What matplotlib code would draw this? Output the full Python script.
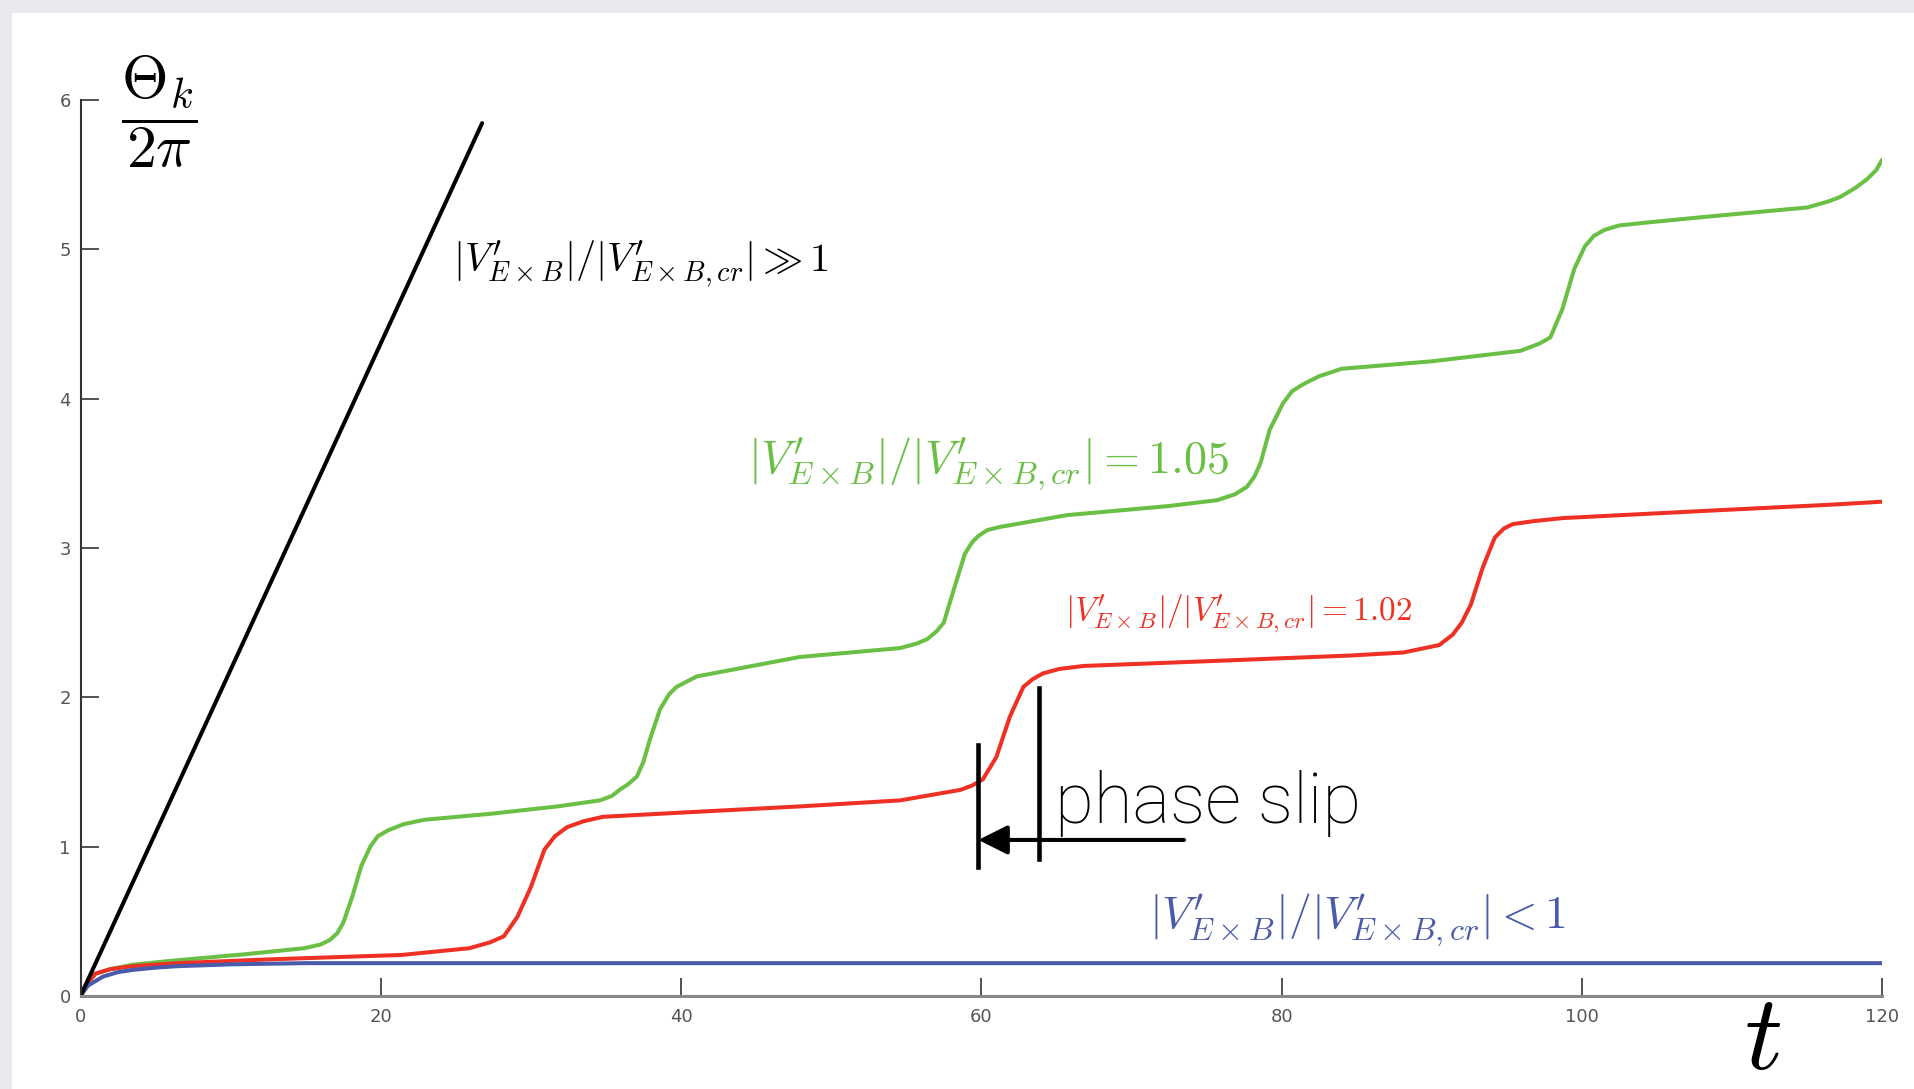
import matplotlib
matplotlib.use("Agg")
import matplotlib.pyplot as plt
from matplotlib.patches import Rectangle

# values
t_ticks = [0, 20, 40, 60, 80, 100, 120]
y_ticks = [0, 1, 2, 3, 4, 5, 6]

black_t = [0, 26.75]
black_y = [0, 5.845]

blue_t = [0, 0.5, 1.5, 2.5, 3.5, 5, 6.5, 8, 10, 15, 120]
blue_y = [0, 0.07, 0.13, 0.16, 0.175, 0.19, 0.2, 0.205, 0.212, 0.22, 0.22]

green_t = [0, 0.5, 1.0, 2, 3.5, 6.5, 11.0, 14.9, 16.0, 16.6, 17.1, 17.5, 18.1, 18.7, 19.3,
           19.8, 20.5, 21.5, 22.9, 27.3, 31.8, 34.6, 35.4, 35.9, 36.5, 37.06, 37.5, 37.9,
           38.6, 39.2, 39.7, 41.05, 47.9, 54.6, 55.7, 56.4, 57.0, 57.5, 58.1, 58.9, 59.4,
           59.8, 60.4, 61.2, 65.7, 72.4, 75.7, 76.9, 77.7, 78.2, 78.6, 79.2, 80.1, 80.7,
           81.5, 82.5, 84, 90, 95.9, 97.2, 97.9, 98.7, 99.5, 100.2, 100.8, 101.5, 102.5,
           104.4, 108.5, 115, 116.4, 117.2, 118.2, 119, 119.6, 120]
green_y = [0, 0.09, 0.15, 0.18, 0.21, 0.24, 0.28, 0.32, 0.345, 0.375, 0.42, 0.49, 0.665, 0.87, 1.0,
           1.07, 1.11, 1.15, 1.18, 1.22, 1.27, 1.31, 1.34, 1.38, 1.42, 1.47, 1.57, 1.71,
           1.92, 2.02, 2.07, 2.14, 2.27, 2.33, 2.36, 2.39, 2.44, 2.5, 2.7, 2.96, 3.04,
           3.08, 3.12, 3.14, 3.22, 3.28, 3.32, 3.36, 3.41, 3.48, 3.57, 3.79, 3.97, 4.05,
           4.10, 4.15, 4.2, 4.25, 4.32, 4.37, 4.41, 4.6, 4.87, 5.02, 5.09, 5.13, 5.16,
           5.18, 5.22, 5.28, 5.32, 5.35, 5.41, 5.47, 5.53, 5.60]

red_t = [0, 0.5, 1, 2, 3.5, 6.5, 12.5, 21.4, 25.9, 27.3, 28.2, 29.1, 30.0, 30.9, 31.6,
         32.4, 33.5, 34.8, 40.4, 48, 54.6, 58.6, 59.4, 60.1, 61.0, 61.9, 62.8, 63.4,
         64.1, 65.2, 66.8, 74.6, 84.6, 88.1, 90.5, 91.4, 92.0, 92.6, 93.4, 94.2, 94.8,
         95.4, 96.8, 98.7, 108.5, 116.6, 120]
red_y = [0, 0.09, 0.15, 0.18, 0.2, 0.22, 0.245, 0.275, 0.32, 0.36, 0.40, 0.53, 0.73, 0.98, 1.07,
         1.13, 1.17, 1.2, 1.23, 1.27, 1.31, 1.38, 1.41, 1.45, 1.60, 1.87, 2.07, 2.12,
         2.16, 2.19, 2.21, 2.24, 2.28, 2.3, 2.35, 2.42, 2.5, 2.62, 2.87, 3.07, 3.13,
         3.16, 3.18, 3.2, 3.25, 3.29, 3.31]

GREEN = "#6abf45"
RED = "#ee3124"
BLUE = "#4a5bab"

plt.rcParams["mathtext.fontset"] = "cm"

fig = plt.figure(figsize=(19.14, 10.89), dpi=100, facecolor="#e8eaee")
fig.add_artist(Rectangle((12 / 1914, 0), 1, 1 - 13 / 1089, transform=fig.transFigure,
                         facecolor="white", edgecolor="none", zorder=-1))
ax = fig.add_axes([0.04206, 0.0854, 0.9413, 0.8228])
ax.set_facecolor("none")

lw = 2.9
ax.plot(green_t, green_y, color=GREEN, lw=lw, solid_capstyle="round", solid_joinstyle="round")
ax.plot(red_t, red_y, color=RED, lw=lw, solid_capstyle="round", solid_joinstyle="round")
ax.plot(blue_t, blue_y, color=BLUE, lw=lw, solid_capstyle="round", solid_joinstyle="round")
ax.plot(black_t, black_y, color="black", lw=lw, solid_capstyle="round")

ax.set_xlim(0, 120)
ax.set_ylim(0, 6)
ax.set_xticks(t_ticks)
ax.set_yticks(y_ticks)
for s in ("top", "right"):
    ax.spines[s].set_visible(False)
ax.spines["left"].set_color("#333333")
ax.spines["left"].set_linewidth(1.5)
ax.spines["bottom"].set_color("#888888")
ax.spines["bottom"].set_linewidth(2.2)
ax.tick_params(direction="in", length=13, width=1.2, color="#333333",
               labelcolor="#555555", labelsize=13)
ax.tick_params(axis="x", pad=9)
ax.tick_params(axis="y", pad=7)
for lab in ax.get_xticklabels() + ax.get_yticklabels():
    lab.set_family(["Liberation Sans Narrow", "DejaVu Sans"])

ratio = r"|V^{\prime}_{E\times B}|/|V^{\prime}_{E\times B,cr}|"

# curve labels
ax.text(24.84, 4.90, "$" + ratio + r"\gg 1$",
        color="black", fontsize=29, ha="left", va="center")
ax.text(44.47, 3.56, "$" + ratio + r"=1.05$",
        color=GREEN, fontsize=33.3, ha="left", va="center")
ax.text(65.6, 2.559, "$" + ratio + r"=1.02$",
        color=RED, fontsize=24, ha="left", va="center")
ax.text(71.2, 0.509, "$" + ratio + r"<1$",
        color=BLUE, fontsize=33, ha="left", va="center")

# phase slip marker
ax.plot([59.8, 59.8], [0.866, 1.68], color="black", lw=3.3)
ax.plot([63.86, 63.86], [0.92, 2.06], color="black", lw=3.3)
ax.annotate("", xy=(59.8, 1.045), xytext=(73.5, 1.045),
            arrowprops=dict(arrowstyle="-|>,head_length=0.4,head_width=0.2",
                            mutation_scale=45, lw=2.9, color="black",
                            shrinkA=0, shrinkB=0))
ax.text(64.9, 1.157, "phase slip", fontsize=51, ha="left", va="baseline",
        family=["Roboto", "DejaVu Sans"], fontweight="light")

# axis labels
ax.text(5.23, 5.92, r"$\dfrac{\Theta_k}{2\pi}$", fontsize=43, ha="center", va="center")
fig.text(1762 / 1914, 1 - 1040 / 1089, r"$t$", fontsize=76, ha="center", va="center")

fig.savefig("out.png", dpi=100, facecolor=fig.get_facecolor())
